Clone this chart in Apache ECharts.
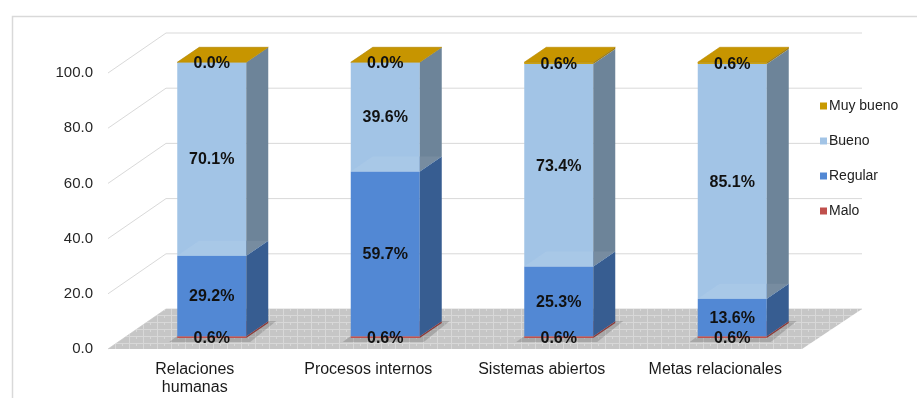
<!DOCTYPE html>
<html>
<head>
<meta charset="utf-8">
<style>
  html, body { margin: 0; padding: 0; background: #fff; }
  #chart { width: 917px; height: 398px; }
</style>
<script src="https://cdn.jsdelivr.net/npm/echarts@6/dist/echarts.min.js"></script>
</head>
<body>
<div id="chart"></div>
<script>
const categories = ['Relaciones\nhumanas', 'Procesos internos', 'Sistemas abiertos', 'Metas relacionales'];
const malo = [0.6, 0.6, 0.6, 0.6];
const regular = [29.2, 59.7, 25.3, 13.6];
const bueno = [70.1, 39.6, 73.4, 85.1];
const muyBueno = [0.0, 0.0, 0.6, 0.6];
const yTicks = [0, 20, 40, 60, 80, 100];

// 3d look
const WALL_DX = 58, WALL_DY = -40;
const BAR_DX = 17, BAR_DY = -11;
const DEP_X = 22, DEP_Y = -15;
const HALF = 34.5;

const layers = [
  { name: 'Malo', values: malo, front: '#C0504D', side: '#8C3A38', top: '#D07C7A' },
  { name: 'Regular', values: regular, front: '#5288D4', side: '#375D91', top: '#6E9CDB' },
  { name: 'Bueno', values: bueno, front: '#A2C4E6', side: '#6D8499', top: '#B4CFEB' },
  { name: 'Muy bueno', values: muyBueno, front: '#C89A00', side: '#96730A', top: '#C79500' }
];

// floor texture
const tile = document.createElement('canvas');
tile.width = 14; tile.height = 7;
const tctx = tile.getContext('2d');
tctx.fillStyle = '#c6c6c6';
tctx.fillRect(0, 0, 14, 7);
tctx.strokeStyle = '#d8d8d8';
tctx.lineWidth = 1;
tctx.beginPath();
tctx.moveTo(0, 0.5); tctx.lineTo(14, 0.5);
tctx.moveTo(3.5, 0); tctx.lineTo(3.5, 7);
tctx.moveTo(10.5, 0); tctx.lineTo(10.5, 3);
tctx.stroke();

const chart = echarts.init(document.getElementById('chart'));

function barGeom(api, i, lo, hi) {
  const pLo = api.coord([i, lo]);
  const pHi = api.coord([i, hi]);
  const cx = pLo[0] + BAR_DX;
  return { x0: cx - HALF, x1: cx + HALF, yb: pLo[1] + BAR_DY, yt: pHi[1] + BAR_DY };
}

function renderBar(layer, idx) {
  return function (params, api) {
    const g = barGeom(api, api.value(0), api.value(1), api.value(2));
    const children = [];
    if (idx === 0) {
      // soft shadow on the floor
      children.push({
        type: 'polygon',
        shape: { points: [[g.x0 - 8, g.yb + 4], [g.x1 + 4, g.yb + 4], [g.x1 + DEP_X + 8, g.yb + DEP_Y - 2], [g.x0 + DEP_X - 2, g.yb + DEP_Y - 2]] },
        style: { fill: 'rgba(60,60,60,0.22)' }
      });
    }
    children.push({
      type: 'rect',
      shape: { x: g.x0, y: g.yt, width: g.x1 - g.x0, height: g.yb - g.yt },
      style: { fill: layer.front }
    });
    children.push({
      type: 'polygon',
      shape: { points: [[g.x1, g.yt], [g.x1 + DEP_X, g.yt + DEP_Y], [g.x1 + DEP_X, g.yb + DEP_Y], [g.x1, g.yb]] },
      style: { fill: layer.side }
    });
    if (idx > 1) {
      // faint face of the segment below (semi transparent look)
      children.push({
        type: 'polygon',
        shape: { points: [[g.x0, g.yb], [g.x1, g.yb], [g.x1 + DEP_X, g.yb + DEP_Y], [g.x0 + DEP_X, g.yb + DEP_Y]] },
        style: { fill: 'rgba(255,255,255,0.07)' }
      });
    }
    children.push({
      type: 'polygon',
      shape: { points: [[g.x0, g.yt], [g.x1, g.yt], [g.x1 + DEP_X, g.yt + DEP_Y], [g.x0 + DEP_X, g.yt + DEP_Y]] },
      style: { fill: layer.top, stroke: idx === 3 ? '#B88A00' : null, lineWidth: 0.6 }
    });
    return { type: 'group', children: children };
  };
}

const barSeries = [];
const labelData = [];
layers.forEach(function (layer, idx) {
  const data = layer.values.map(function (v, i) {
    let base = 0;
    for (let k = 0; k < idx; k++) base += layers[k].values[i];
    labelData.push([i, base, base + v, v]);
    return [i, base, base + v];
  });
  barSeries.push({
    type: 'custom',
    name: layer.name,
    itemStyle: { color: layer.front },
    z: 3,
    renderItem: renderBar(layer, idx),
    data: data
  });
});

const option = {
  animation: false,
  backgroundColor: '#fff',
  graphic: [{
    type: 'rect',
    left: 10, top: 14,
    shape: { width: 920, height: 400 },
    style: { fill: 'none', stroke: '#d9d9d9', lineWidth: 1.5 },
    silent: true
  }],
  grid: { left: 108, right: 115, top: 73, bottom: 49 },
  legend: {
    orient: 'vertical',
    left: 815,
    top: 94,
    itemWidth: 7,
    itemHeight: 7,
    itemGap: 21,
    icon: 'rect',
    data: ['Muy bueno', 'Bueno', 'Regular', 'Malo'],
    textStyle: { fontFamily: 'Liberation Sans', fontSize: 14, color: '#222', padding: [0, 0, 0, -3] }
  },
  xAxis: {
    type: 'category',
    data: categories,
    axisLine: { show: false },
    axisTick: { show: false },
    axisLabel: { fontFamily: 'Liberation Sans', fontSize: 16, color: '#1a1a1a', margin: 12, lineHeight: 18 }
  },
  yAxis: {
    type: 'value',
    min: 0,
    max: 100,
    interval: 20,
    axisLine: { show: false },
    axisTick: { show: false },
    splitLine: { show: false },
    axisLabel: {
      fontFamily: 'Liberation Sans', fontSize: 15, color: '#262626', margin: 15,
      formatter: function (v) { return v.toFixed(1); }
    }
  },
  series: [{
    // walls and floor
    type: 'custom',
    silent: true,
    z: 1,
    data: [[0]],
    renderItem: function (params, api) {
      const cs = params.coordSys;
      const gx = cs.x, gw = cs.width;
      const children = [];
      yTicks.forEach(function (v) {
        const y = api.coord([0, v])[1];
        children.push({
          type: 'polyline',
          shape: { points: [[gx, y], [gx + WALL_DX, y + WALL_DY], [gx + gw + WALL_DX + 2, y + WALL_DY]] },
          style: { stroke: '#d9d9d9', lineWidth: 1, fill: null }
        });
      });
      const y0 = api.coord([0, 0])[1];
      children.push({
        type: 'polygon',
        shape: { points: [[gx, y0], [gx + gw, y0], [gx + gw + WALL_DX + 2, y0 + WALL_DY], [gx + WALL_DX, y0 + WALL_DY]] },
        style: { fill: { image: tile, repeat: 'repeat' } }
      });
      return { type: 'group', children: children };
    }
  }].concat(barSeries, [{
    type: 'custom',
    silent: true,
    z: 5,
    data: labelData,
    renderItem: function (params, api) {
      const g = barGeom(api, api.value(0), api.value(1), api.value(2));
      return {
        type: 'text',
        style: {
          x: (g.x0 + g.x1) / 2,
          y: (g.yt + g.yb) / 2 + 1,
          text: api.value(3).toFixed(1) + '%',
          align: 'center',
          verticalAlign: 'middle',
          font: 'bold 16px "Liberation Sans"',
          fill: '#111'
        }
      };
    }
  }])
};

chart.setOption(option);
</script>
</body>
</html>
